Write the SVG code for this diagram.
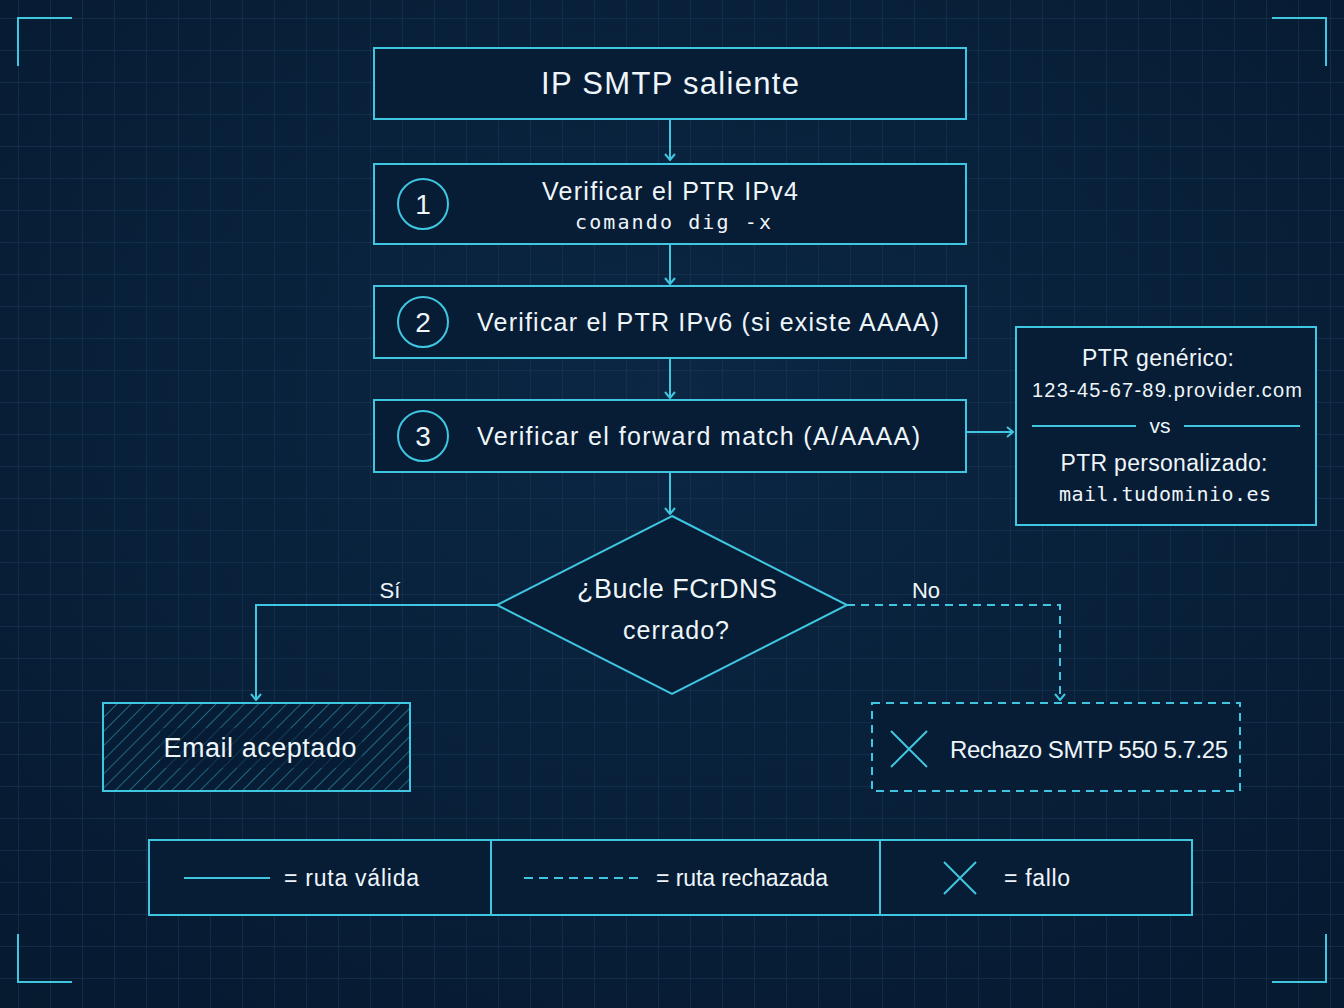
<svg xmlns="http://www.w3.org/2000/svg" width="1344" height="1008" viewBox="0 0 1344 1008">
<defs>
<pattern id="grid" x="18" y="18" width="32" height="32" patternUnits="userSpaceOnUse"><path d="M0 0H32M0 0V32" fill="none" stroke="#1b3a5c" stroke-width="1"/></pattern>
<pattern id="hatch" width="10" height="10" patternUnits="userSpaceOnUse" patternTransform="rotate(45)"><line x1="0" y1="0" x2="0" y2="10" stroke="#3fc6e0" stroke-width="1.2"/></pattern>
<marker id="ar" viewBox="0 0 12 12" refX="11" refY="6" markerWidth="12" markerHeight="12" markerUnits="userSpaceOnUse" orient="auto"><path d="M5 1L11 6L5 11" fill="none" stroke="#3fc6e0" stroke-width="2"/></marker>
<radialGradient id="bg" cx="50%" cy="40%" r="75%"><stop offset="0" stop-color="#0b2744"/><stop offset="1" stop-color="#061a30"/></radialGradient>
</defs>
<style>
.box{fill:#071c35;stroke:#3fc6e0;stroke-width:2}
.ln{fill:none;stroke:#3fc6e0;stroke-width:2}
.t{font-family:"Liberation Sans",Arial,sans-serif;fill:#eef6fa}
.m{font-family:"DejaVu Sans Mono","Liberation Mono",monospace;fill:#eef6fa}
</style>
<rect width="1344" height="1008" fill="url(#bg)"/>
<rect width="1344" height="1008" fill="url(#grid)"/>
<g class="ln" stroke-width="3">
<path d="M18 66V18H72"/><path d="M1272 18H1326V66"/><path d="M18 934V982H72"/><path d="M1272 982H1326V934"/>
</g>
<g id="connectors">
<path class="ln" d="M670 119V160" marker-end="url(#ar)"/>
<path class="ln" d="M670 244V284" marker-end="url(#ar)"/>
<path class="ln" d="M670 358V398" marker-end="url(#ar)"/>
<path class="ln" d="M670 472V514" marker-end="url(#ar)"/>
<path class="ln" d="M966 432H1013" marker-end="url(#ar)"/>
<path class="ln" d="M497 605H256V700" marker-end="url(#ar)"/>
<path class="ln" d="M847 605H1060V700" stroke-dasharray="8 6" marker-end="url(#ar)"/>
<text class="t" x="390" y="598" font-size="22" text-anchor="middle">Sí</text>
<text class="t" x="926" y="598" font-size="22" text-anchor="middle">No</text>
</g>
<g id="start"><rect class="box" x="374" y="48" width="592" height="71"/><text class="t" x="670" y="94" font-size="31" text-anchor="middle" textLength="258">IP SMTP saliente</text></g>
<g id="step1"><rect class="box" x="374" y="164" width="592" height="80"/><circle class="ln" cx="423" cy="204" r="25"/><text class="t" x="423" y="214" font-size="28" text-anchor="middle">1</text><text class="t" x="670" y="200" font-size="25" text-anchor="middle" textLength="256">Verificar el PTR IPv4</text><text class="m" x="673" y="229" font-size="20" text-anchor="middle" textLength="196">comando dig -x</text></g>
<g id="step2"><rect class="box" x="374" y="286" width="592" height="72"/><circle class="ln" cx="423" cy="322" r="25"/><text class="t" x="423" y="332" font-size="28" text-anchor="middle">2</text><text class="t" x="477" y="331" font-size="25" textLength="462">Verificar el PTR IPv6 (si existe AAAA)</text></g>
<g id="step3"><rect class="box" x="374" y="400" width="592" height="72"/><circle class="ln" cx="423" cy="436" r="25"/><text class="t" x="423" y="446" font-size="28" text-anchor="middle">3</text><text class="t" x="477" y="445" font-size="25" textLength="443">Verificar el forward match (A/AAAA)</text></g>
<g id="note"><rect class="box" x="1016" y="327" width="300" height="198"/><text class="t" x="1158" y="366" font-size="23" text-anchor="middle" textLength="152">PTR genérico:</text><text class="t" x="1167" y="397" font-size="20" text-anchor="middle" textLength="270">123-45-67-89.provider.com</text><path class="ln" d="M1032 426H1136M1184 426H1300" stroke-width="1.5"/><text class="t" x="1160" y="433" font-size="21" text-anchor="middle">vs</text><text class="t" x="1164" y="471" font-size="23" text-anchor="middle" textLength="207">PTR personalizado:</text><text class="m" x="1165" y="501" font-size="20" text-anchor="middle" textLength="212">mail.tudominio.es</text></g>
<g id="decision"><path class="box" d="M672 516L847 605L672 694L497 605Z"/><text class="t" x="677" y="598" font-size="27" text-anchor="middle" textLength="200">¿Bucle FCrDNS</text><text class="t" x="676" y="639" font-size="25" text-anchor="middle" textLength="106">cerrado?</text></g>
<g id="accept"><rect class="box" x="103" y="703" width="307" height="88"/><rect x="103" y="703" width="307" height="88" fill="url(#hatch)" opacity="0.75"/><rect x="160" y="728" width="202" height="40" fill="#071c35" opacity="0.6"/><text class="t" x="260" y="757" font-size="27" text-anchor="middle" textLength="193">Email aceptado</text></g>
<g id="reject"><rect class="box" x="872" y="703" width="368" height="88" stroke-dasharray="8 6"/><path class="ln" d="M891 731L927 767M927 731L891 767" stroke-width="3"/><text class="t" x="950" y="758" font-size="24" textLength="278">Rechazo SMTP 550 5.7.25</text></g>
<g id="legend"><rect class="box" x="149" y="840" width="1043" height="75"/><path class="ln" d="M491 840V915M880 840V915"/><path class="ln" d="M184 878H270"/><text class="t" x="284" y="886" font-size="23" textLength="135">= ruta válida</text><path class="ln" d="M524 878H644" stroke-dasharray="9 6"/><text class="t" x="656" y="886" font-size="23" textLength="172">= ruta rechazada</text><path class="ln" d="M944 862L976 894M976 862L944 894" stroke-width="3"/><text class="t" x="1004" y="886" font-size="23" textLength="66">= fallo</text></g>
</svg>
